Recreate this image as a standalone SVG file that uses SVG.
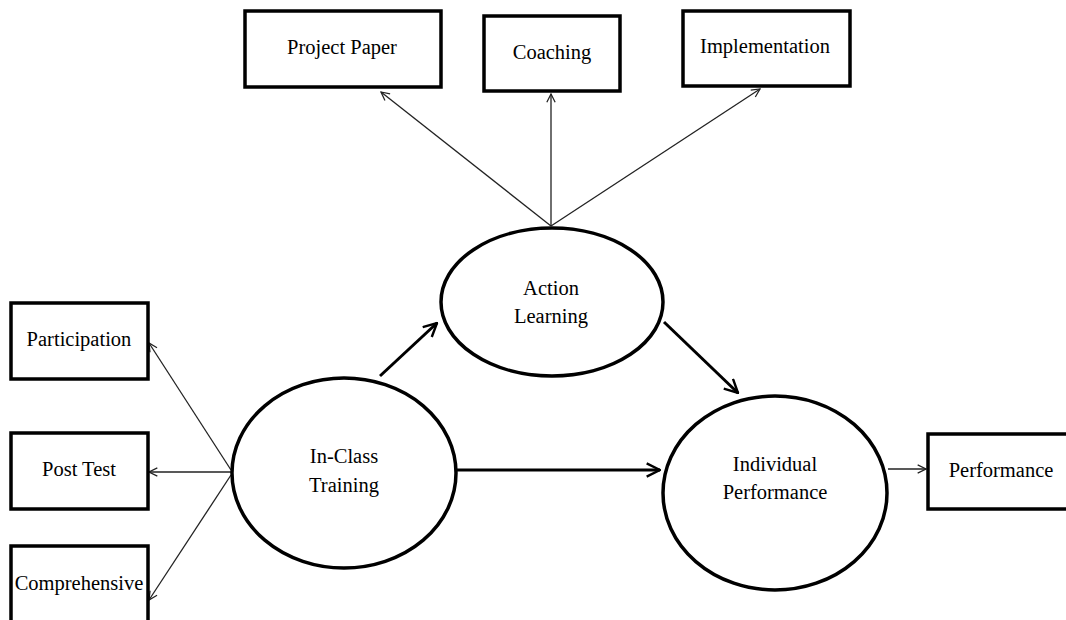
<svg xmlns="http://www.w3.org/2000/svg" width="1066" height="620" viewBox="0 0 1066 620">
  <style>
    .box { fill: #ffffff; stroke: #000000; stroke-width: 3.5; }
    .oval { fill: #ffffff; stroke: #000000; stroke-width: 3.5; }
    .lbl { font-family: "Liberation Serif", "Times New Roman", serif; font-size: 20.5px; fill: #000000; text-anchor: middle; }
    .thin { stroke: #222222; stroke-width: 1.3; fill: none; }
    .thick { stroke: #000000; stroke-width: 3; fill: none; }
  </style>
  <defs>
    <marker id="headThin" viewBox="0 0 12 12" refX="11" refY="6" markerWidth="10" markerHeight="10" markerUnits="userSpaceOnUse" orient="auto">
      <path d="M1,1 L11,6 L1,11" fill="none" stroke="#222222" stroke-width="1.5"/>
    </marker>
    <marker id="headThick" viewBox="0 0 12 12" refX="11" refY="6" markerWidth="16" markerHeight="16" markerUnits="userSpaceOnUse" orient="auto">
      <path d="M1,1 L11,6 L1,11" fill="none" stroke="#000000" stroke-width="1.8"/>
    </marker>
  </defs>

  <!-- connectors -->
  <g id="connectors">
    <line class="thin" x1="551" y1="226" x2="381" y2="92" marker-end="url(#headThin)"/>
    <line class="thin" x1="551" y1="226" x2="551" y2="94" marker-end="url(#headThin)"/>
    <line class="thin" x1="551" y1="226" x2="760" y2="89" marker-end="url(#headThin)"/>
    <line class="thin" x1="231" y1="470" x2="149" y2="343" marker-end="url(#headThin)"/>
    <line class="thin" x1="231" y1="472" x2="149" y2="472" marker-end="url(#headThin)"/>
    <line class="thin" x1="231" y1="475" x2="149" y2="600" marker-end="url(#headThin)"/>
    <line class="thick" x1="380" y1="376" x2="437" y2="323" marker-end="url(#headThick)"/>
    <line class="thick" x1="457" y1="470" x2="660" y2="470" marker-end="url(#headThick)"/>
    <line class="thick" x1="664" y1="322" x2="738" y2="393" marker-end="url(#headThick)"/>
    <line class="thin" x1="888" y1="469" x2="926" y2="469" marker-end="url(#headThin)"/>
  </g>

  <g id="project-paper">
    <rect class="box" x="245" y="11" width="196" height="76"/>
    <text class="lbl" x="342" y="54">Project Paper</text>
  </g>
  <g id="coaching">
    <rect class="box" x="484" y="16" width="136" height="75"/>
    <text class="lbl" x="552" y="59">Coaching</text>
  </g>
  <g id="implementation">
    <rect class="box" x="683" y="11" width="167" height="75"/>
    <text class="lbl" x="765" y="53">Implementation</text>
  </g>

  <g id="participation">
    <rect class="box" x="11" y="303" width="137" height="76"/>
    <text class="lbl" x="79" y="346">Participation</text>
  </g>
  <g id="post-test">
    <rect class="box" x="11" y="433" width="137" height="76"/>
    <text class="lbl" x="79" y="476">Post Test</text>
  </g>
  <g id="comprehensive">
    <rect class="box" x="11" y="546" width="137" height="80"/>
    <text class="lbl" x="79" y="590">Comprehensive</text>
  </g>

  <g id="action-learning">
    <ellipse class="oval" cx="552" cy="302" rx="111" ry="74"/>
    <text class="lbl" x="551" y="295">Action</text>
    <text class="lbl" x="551" y="323">Learning</text>
  </g>
  <g id="in-class-training">
    <ellipse class="oval" cx="344" cy="473" rx="112" ry="95"/>
    <text class="lbl" x="344" y="463">In-Class</text>
    <text class="lbl" x="344" y="492">Training</text>
  </g>
  <g id="individual-performance">
    <ellipse class="oval" cx="775" cy="493" rx="112" ry="97"/>
    <text class="lbl" x="775" y="471">Individual</text>
    <text class="lbl" x="775" y="499">Performance</text>
  </g>

  <g id="performance">
    <rect class="box" x="928" y="434" width="140" height="75"/>
    <text class="lbl" x="1001" y="477">Performance</text>
  </g>
</svg>
